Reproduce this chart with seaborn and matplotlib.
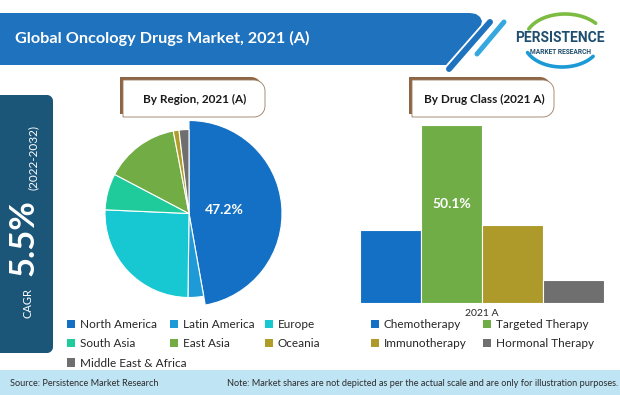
import numpy as np
import pandas as pd
import matplotlib
matplotlib.use("Agg")
import matplotlib.pyplot as plt
import seaborn as sns
from matplotlib.patches import Polygon, Rectangle, Patch

# ---------------- data ----------------
title = "Global Oncology Drugs Market, 2021 (A)"
region_title = "By Region, 2021 (A)"
drug_title = "By Drug Class (2021 A)"
regions = ["North America", "Latin America", "Europe", "South Asia",
           "East Asia", "Oceania", "Middle East & Africa"]
region_shares = [47.2, 3.0, 25.5, 7.0, 14.3, 1.1, 1.9]
region_colors = ["#1470C4", "#1E9BD7", "#17C8D3", "#1FCB9B",
                 "#72AC45", "#B09D28", "#6F6F6F"]
drug_classes = ["Chemotherapy", "Targeted Therapy", "Immunotherapy", "Hormonal Therapy"]
drug_shares = [20.6, 50.1, 21.9, 6.6]
drug_colors = ["#1470C4", "#70AD47", "#AD9A2A", "#6F6F6F"]
year_label = "2021 A"
cagr_value = "5.5%"
cagr_label = "CAGR"
cagr_period = "(2022-2032)"
source_text = "Source: Persistence Market Research"
note_text = ("Note: Market shares are not depicted as per the actual scale "
             "and are only for illustration purposes.")

sns.set_theme(style="white")
plt.rcParams['font.family'] = ['Lato', 'DejaVu Sans']

W, H = 620, 395
fig = plt.figure(figsize=(W / 100, H / 100), dpi=100)
fig.patch.set_facecolor("white")


def fx(x):
    return x / W


def fy(y):
    return 1 - y / H


# background axes in pixel coordinates
bg = fig.add_axes([0, 0, 1, 1], zorder=0)
bg.set_xlim(0, W)
bg.set_ylim(H, 0)
bg.axis("off")


def right_round_box(x0, y0, x1, y1, r, n=12):
    pts = [(x0, y0), (x1 - r, y0)]
    for t in np.linspace(-np.pi / 2, 0, n):
        pts.append((x1 - r + r * np.cos(t), y0 + r + r * np.sin(t)))
    for t in np.linspace(0, np.pi / 2, n):
        pts.append((x1 - r + r * np.cos(t), y1 - r + r * np.sin(t)))
    pts.append((x0, y1))
    return pts


# title banner
banner = [(0, 13), (470, 13), (476, 14), (480, 17), (482, 21), (481, 25),
          (446, 65), (0, 65)]
bg.add_patch(Polygon(banner, closed=True, facecolor="#1F72BD", edgecolor="none"))
bg.plot([490, 449], [22, 69], color="#1F72BD", lw=4.3, solid_capstyle="round")
bg.plot([504, 477], [22, 54], color="#36A8E0", lw=3.6, solid_capstyle="round")
bg.text(15, 38, title, color="white", fontsize=11.7, fontweight="bold",
        va="center", ha="left")

# logo
t = np.linspace(np.radians(40), np.radians(155), 60)
bg.plot(565 + 40 * np.cos(t), 40 - 26 * np.sin(t), color="#7DBC42", lw=2.6,
        solid_capstyle="round")
t = np.linspace(np.radians(205), np.radians(325), 60)
bg.plot(562 + 38 * np.cos(t), 42 - 25 * np.sin(t), color="#1B9AD6", lw=2.6,
        solid_capstyle="round")
bg.text(560, 38, "PERSISTENCE", color="#1F4E6E", fontsize=10, family="Roboto",
        fontweight="bold", ha="center", va="center")
bg.text(560, 52, "MARKET RESEARCH", color="#1F4E6E", fontsize=4.8, family="Roboto",
        fontweight="bold", ha="center", va="center")

# CAGR box
bg.add_patch(Polygon(right_round_box(0, 95, 53, 353, 6), closed=True,
                     facecolor="#1B5679", edgecolor="none"))
bg.text(28, 303, cagr_label, color="white", fontsize=8, rotation=90,
        ha="center", va="center")
bg.text(24, 238, cagr_value, color="white", fontsize=25, fontweight="bold",
        rotation=90, ha="center", va="center")
bg.text(33, 157, cagr_period, color="white", fontsize=8.5, rotation=90,
        ha="center", va="center")

# sub-title boxes
for (x0, txt) in [(123, region_title), (412, drug_title)]:
    bg.add_patch(Polygon(right_round_box(x0 - 3, 77, x0 + 139, 114, 11), closed=True,
                         facecolor="#8E6646", edgecolor="none"))
    bg.add_patch(Polygon(right_round_box(x0, 80, x0 + 142, 117, 11), closed=True,
                         facecolor="white", edgecolor="#9A7A60", lw=0.6))
    bg.text(x0 + 72, 99, txt, color="#1A1A1A", fontsize=8.5, fontweight="bold",
            ha="center", va="center")

# footer
bg.add_patch(Rectangle((0, 370), W, 25, facecolor="#BFE4F4", edgecolor="none"))
bg.text(10, 383, source_text, color="#2B2B2B", fontsize=6.6, ha="left", va="center")
bg.text(618, 383, note_text, color="#2B2B2B", fontsize=6.6, ha="right", va="center")

# ---------------- pie ----------------
cx, cy, r = 189, 213.5, 84
half = 100
axp = fig.add_axes([fx(cx - half), fy(cy + half), 2 * half / W, 2 * half / H], zorder=2)
wedges, _ = axp.pie(region_shares, colors=region_colors, startangle=90,
                    counterclock=False,
                    wedgeprops=dict(edgecolor="white", linewidth=0.8))
wedges[0].set_radius(93 / 84)
axp.set_xlim(-half / r, half / r)
axp.set_ylim(-half / r, half / r)
axp.set_aspect("equal")
axp.axis("off")
axp.text(0.42, 0.04, f"{region_shares[0]:.1f}%", color="white", fontsize=10,
         fontweight="bold", ha="center", va="center")

# ---------------- bars ----------------
bx0, bx1, by_top, by_bot = 360, 604, 125.5, 303
axb = fig.add_axes([fx(bx0), fy(by_bot), (bx1 - bx0) / W, (by_bot - by_top) / H], zorder=2)
df = pd.DataFrame({"cls": drug_classes, "share": drug_shares})
sns.barplot(data=df, x="cls", y="share", hue="cls", palette=drug_colors,
            width=1.0, ax=axb, legend=False, edgecolor="white", linewidth=0.8,
            saturation=1)
axb.set_xlim(-0.5, len(drug_classes) - 0.5)
axb.set_ylim(0, max(drug_shares))
axb.set_xlabel("")
axb.set_ylabel("")
axb.set_yticks([])
axb.set_xticks([(len(drug_classes) - 1) / 2])
axb.set_xticklabels([year_label], fontsize=7.5, color="#262626")
axb.tick_params(axis="x", length=0, pad=4)
for s in axb.spines.values():
    s.set_visible(False)
imax = int(np.argmax(drug_shares))
axb.text(imax, max(drug_shares) * 0.56, f"{drug_shares[imax]:.1f}%", color="white",
         fontsize=10, fontweight="bold", ha="center", va="center")

# ---------------- legends ----------------
leg_kw = dict(loc="upper left", frameon=False, fontsize=8.5, handlelength=0.7,
              handleheight=0.7, handletextpad=0.4, borderpad=0, borderaxespad=0,
              labelspacing=0.7, labelcolor="#262626")


def handles(names, colors, idx):
    return [Patch(facecolor=colors[i], edgecolor="none", label=names[i]) for i in idx]


for xpos, idx in [(67, [0, 3, 6]), (170, [1, 4]), (265, [2, 5])]:
    fig.legend(handles=handles(regions, region_colors, idx),
               bbox_to_anchor=(fx(xpos), fy(319)), **leg_kw)
for xpos, idx in [(371, [0, 2]), (483, [1, 3])]:
    fig.legend(handles=handles(drug_classes, drug_colors, idx),
               bbox_to_anchor=(fx(xpos), fy(319)), **leg_kw)

fig.savefig("out.png", dpi=100, facecolor="white")
